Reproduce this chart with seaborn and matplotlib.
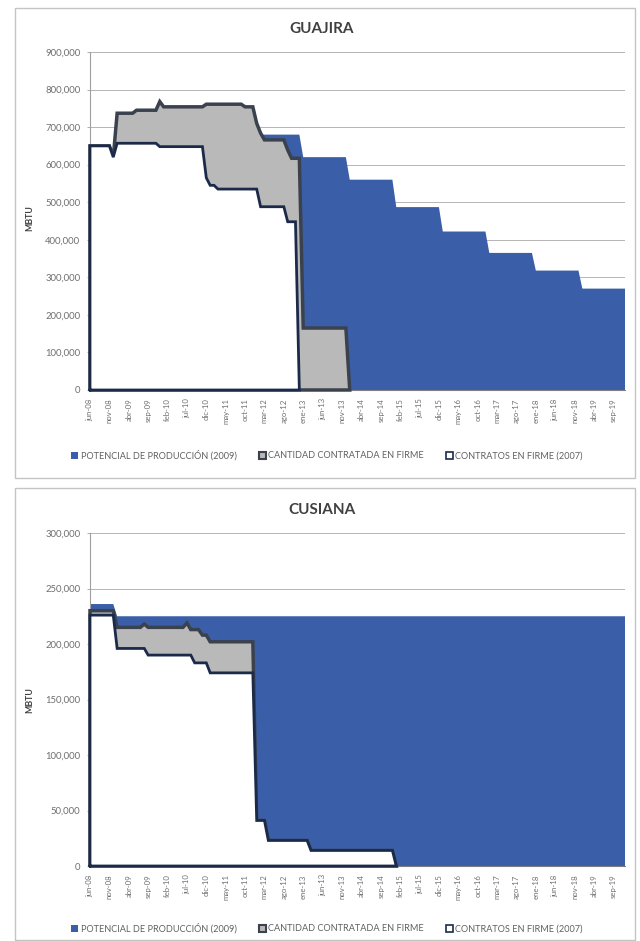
import numpy as np
import pandas as pd
import matplotlib
matplotlib.use("Agg")
import matplotlib.pyplot as plt
from matplotlib.patches import Patch, Rectangle
from matplotlib.ticker import FuncFormatter
import seaborn as sns

# ---- monthly horizon -------------------------------------------------------
meses = pd.date_range("2008-06-01", "2019-12-01", freq="MS")
abrev = ["ene", "feb", "mar", "abr", "may", "jun",
         "jul", "ago", "sep", "oct", "nov", "dic"]
etiquetas = [f"{abrev[d.month - 1]}-{d.year % 100:02d}" for d in meses]

# ---- GUAJIRA (MBTU), value from each month listed until the next change ----
guajira_potencial = {
    "2008-06": 600000, "2009-01": 700000, "2012-01": 680000,
    "2013-01": 620000, "2014-01": 560000, "2015-01": 487000,
    "2016-01": 422000, "2017-01": 365000, "2018-01": 318000,
    "2019-01": 270000,
}
guajira_contratada = {
    "2008-06": 650000, "2008-12": 620000, "2009-01": 737000,
    "2009-06": 745000, "2009-12": 768000, "2010-01": 754000,
    "2010-12": 761000, "2011-10": 754000, "2012-01": 710000,
    "2012-02": 684000, "2012-03": 666000, "2012-09": 639000,
    "2012-10": 617000, "2013-01": 165000, "2014-01": 0,
}
guajira_contratos_2007 = {
    "2008-06": 650000, "2008-12": 620000, "2009-01": 657000,
    "2009-12": 648000, "2010-12": 565000, "2011-01": 545000,
    "2011-03": 535000, "2012-02": 488000, "2012-09": 448000,
    "2012-12": 0,
}

# ---- CUSIANA (MBTU) --------------------------------------------------------
cusiana_potencial = {"2008-06": 236000, "2009-01": 225000}
cusiana_contratada = {
    "2008-06": 230000, "2009-01": 215000, "2009-08": 218000,
    "2009-09": 215000, "2010-07": 219000, "2010-08": 213000,
    "2010-11": 208000, "2011-01": 202000, "2012-01": 41000,
    "2012-04": 23000, "2013-03": 14000, "2015-01": 0,
}
cusiana_contratos_2007 = {
    "2008-06": 226000, "2009-01": 196000, "2009-09": 190000,
    "2010-09": 183000, "2011-01": 174000, "2012-01": 41000,
    "2012-04": 23000, "2013-03": 14000, "2015-01": 0,
}

nombres = ["POTENCIAL DE PRODUCCIÓN (2009)",
           "CANTIDAD CONTRATADA EN FIRME",
           "CONTRATOS EN FIRME (2007)"]

AZUL = "#3a5fa8"
GRIS = "#b9b9b9"
BORDE_GRIS = "#3b424e"
BORDE_AZUL = "#1c2a4a"
TEXTO = "#6e6e6e"


def serie(cambios):
    s = pd.Series(np.nan, index=meses)
    for fecha, valor in cambios.items():
        s[pd.Timestamp(fecha)] = valor
    return s.ffill().to_numpy()


sns.set_theme(style="white")
plt.rcParams["font.family"] = ["Lato", "DejaVu Sans"]

fig = plt.figure(figsize=(6.4, 9.41), dpi=100)
W, H = 640.0, 941.0

x = np.arange(len(meses))


def area(ax, y, cara, borde, lw, z):
    nz = np.nonzero(y)[0]
    fin = min(nz[-1] + 1, len(y) - 1)
    xs, ys = x[: fin + 1], y[: fin + 1]
    ax.fill_between(xs, 0, ys, facecolor=cara, edgecolor="none",
                    linewidth=0, zorder=z, clip_on=False)
    if borde is not None:
        px = np.concatenate([[0], xs, [xs[-1], 0]])
        py = np.concatenate([[0], ys, [0, 0]])
        sns.lineplot(x=px, y=py, sort=False, estimator=None, ax=ax,
                     color=borde, linewidth=lw, zorder=z + 0.5,
                     clip_on=False, solid_joinstyle="miter")


def grafico(ax, titulo, pot, con, c07, ymax, paso, y_tit, y_leg, y_mbtu):
    area(ax, serie(pot), AZUL, None, 0, 2)
    area(ax, serie(con), GRIS, BORDE_GRIS, 2.5, 3)
    area(ax, serie(c07), "white", BORDE_AZUL, 2.0, 4)

    ax.set_xlim(0, len(meses) - 1)
    ax.set_ylim(0, ymax)
    ax.set_yticks(np.arange(0, ymax + 1, paso))
    ax.yaxis.set_major_formatter(FuncFormatter(lambda v, p: f"{v:,.0f}"))
    ax.set_xticks(x[::5])
    ax.set_xticklabels(etiquetas[::5], rotation=90)
    ax.set_xlabel("")
    ax.set_ylabel("")
    ax.grid(axis="y", color="#b4b4b4", linewidth=0.7)
    ax.set_axisbelow(True)
    for lado in ("top", "right"):
        ax.spines[lado].set_visible(False)
    ax.spines["left"].set_color("#a0a0a0")
    ax.spines["left"].set_linewidth(0.8)
    ax.spines["bottom"].set_color("#808080")
    ax.spines["bottom"].set_linewidth(0.8)
    ax.tick_params(axis="y", length=2, width=0.6, color="#a0a0a0",
                   pad=5, labelsize=6.8, labelcolor=TEXTO, left=True)
    ax.tick_params(axis="x", length=0, pad=6, labelsize=5.6,
                   labelcolor=TEXTO, bottom=True)

    fig.text(322 / W, 1 - y_tit / H, titulo, ha="center", va="center",
             fontsize=11, fontweight="bold", color="#404040")
    fig.text(30 / W, 1 - y_mbtu / H, "MBTU", rotation=90, ha="center",
             va="center", fontsize=6.3, fontweight="bold", color="#404040")

    manejadores = [
        Patch(facecolor=AZUL, edgecolor="none"),
        Patch(facecolor=GRIS, edgecolor=BORDE_GRIS, linewidth=1.5),
        Patch(facecolor="white", edgecolor=BORDE_AZUL, linewidth=1.2),
    ]
    fig.legend(manejadores, nombres, loc="center",
               bbox_to_anchor=(327 / W, 1 - y_leg / H), ncol=3,
               frameon=False, fontsize=6.6, handlelength=0.8,
               handleheight=0.8, handletextpad=0.25, columnspacing=2.4,
               labelcolor="#606060")


ax1 = fig.add_axes([90 / W, 1 - 390 / H, 535 / W, 338 / H])
ax2 = fig.add_axes([90 / W, 1 - 866 / H, 535 / W, 333 / H])

grafico(ax1, "GUAJIRA", guajira_potencial, guajira_contratada,
        guajira_contratos_2007, 900000, 100000, 29, 455, 218)
grafico(ax2, "CUSIANA", cusiana_potencial, cusiana_contratada,
        cusiana_contratos_2007, 300000, 50000, 510, 928, 700)

# chart frames
fig.add_artist(Rectangle((15 / W, 1 - 478 / H), 620 / W, 470 / H,
                         transform=fig.transFigure, fill=False,
                         edgecolor="#c4c4c4", linewidth=1))
fig.add_artist(Rectangle((15 / W, 1 / H), 620 / W, 452 / H,
                         transform=fig.transFigure, fill=False,
                         edgecolor="#c4c4c4", linewidth=1))

fig.savefig("out.png", dpi=100)
